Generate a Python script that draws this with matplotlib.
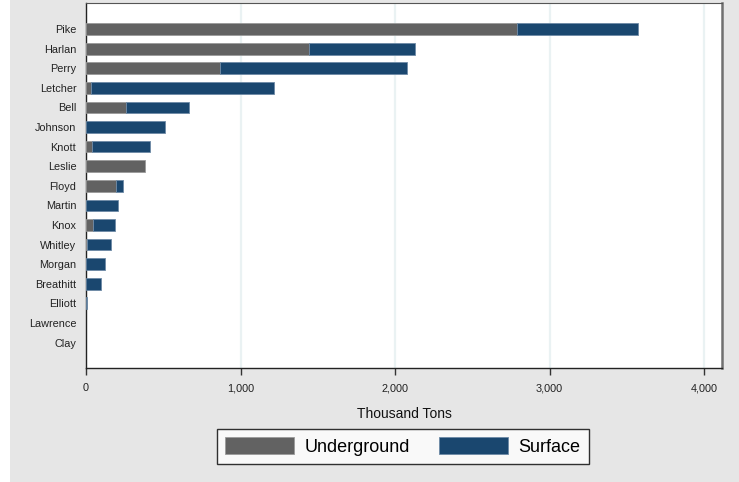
import numpy as np
import matplotlib.pyplot as plt
from matplotlib.patches import Rectangle
from matplotlib.ticker import FuncFormatter

plt.rcParams['font.family'] = ['Liberation Sans', 'DejaVu Sans']

counties = ['Pike', 'Harlan', 'Perry', 'Letcher', 'Bell', 'Johnson', 'Knott',
            'Leslie', 'Floyd', 'Martin', 'Knox', 'Whitley', 'Morgan',
            'Breathitt', 'Elliott', 'Lawrence', 'Clay']
underground = [2790, 1441, 865, 30, 256, 0, 39, 382, 194, 0, 47, 5, 0, 0, 0, 0, 0]
surface = [783, 686, 1215, 1189, 413, 511, 377, 0, 43, 205, 141, 159, 125, 99, 8, 0, 0]
x_ticks = [0, 1000, 2000, 3000, 4000]

gray_col = '#626262'
navy_col = '#1a476f'

fig = plt.figure(figsize=(7.39, 4.82), dpi=100)
fig.patch.set_facecolor('white')
fig.patches.append(Rectangle((10 / 739, 0), 1 - 10 / 739, 1, transform=fig.transFigure,
                             facecolor='#e6e6e6', edgecolor='none', zorder=-10))

ax = fig.add_axes([86 / 739, 1 - 368 / 482, (722 - 86) / 739, 365 / 482])
ax.set_facecolor('white')

y = np.arange(len(counties))
# no outline on empty segments
lw_under = [0.6 if v > 0 else 0 for v in underground]
lw_surf = [0.6 if v > 0 else 0 for v in surface]
ax.barh(y, underground, height=0.6, color=gray_col, edgecolor='#9a9a9a', linewidth=lw_under,
        label='Underground', zorder=3)
ax.barh(y, surface, left=underground, height=0.6, color=navy_col, edgecolor='#6d8aa6',
        linewidth=lw_surf, label='Surface', zorder=3)

ax.set_xlim(0, 4116)
ax.set_ylim(len(counties) - 1 + 1.3, -1.33)
ax.set_yticks(y)
ax.set_yticklabels(counties, fontsize=7.8, color='#222222')
ax.set_xticks(x_ticks)
ax.xaxis.set_major_formatter(FuncFormatter(lambda v, p: '{:,.0f}'.format(v)))
ax.tick_params(axis='x', labelsize=7.8, length=5, width=1, colors='#333333', pad=6)
ax.tick_params(axis='y', length=0, pad=7)
for t in ax.get_xticklabels():
    t.set_color('#222222')

ax.grid(axis='x', color='#eaf2f3', linewidth=1.6, zorder=0)
ax.set_axisbelow(True)

ax.spines['left'].set_color('#222222')
ax.spines['bottom'].set_color('#222222')
ax.spines['top'].set_color('#555555')
ax.spines['right'].set_color('#707070')
ax.spines['right'].set_linewidth(1.8)
ax.spines['left'].set_linewidth(1.0)
ax.spines['bottom'].set_linewidth(1.0)

ax.set_xlabel('Thousand Tons', fontsize=10, labelpad=10, color='#111111')

leg = fig.legend(loc='center', bbox_to_anchor=(403 / 739, 1 - 446.5 / 482), ncol=2,
                 fontsize=13, frameon=True, fancybox=False, edgecolor='black',
                 handlelength=3.8, handleheight=1.05, handletextpad=0.6,
                 columnspacing=1.6, borderpad=0.45, borderaxespad=0)
leg.get_frame().set_linewidth(1.0)
leg.get_frame().set_facecolor('white')

fig.savefig('out.png', dpi=100, facecolor=fig.get_facecolor())
